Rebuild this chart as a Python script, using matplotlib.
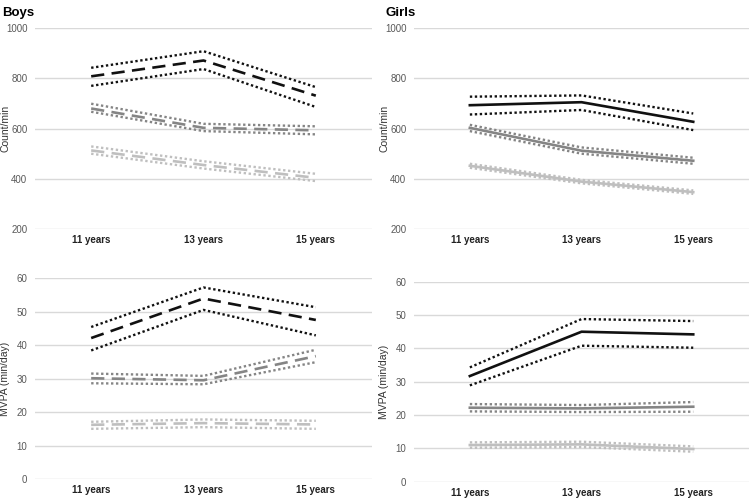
import matplotlib
matplotlib.use("Agg")
import matplotlib.pyplot as plt

plt.rcParams['font.family'] = ['Liberation Sans', 'DejaVu Sans']

ages = ['11 years', '13 years', '15 years']

# Boys, counts/min (mean, upper CI, lower CI) per group
boys_cpm_hi = [808, 871, 731]
boys_cpm_hi_up = [842, 908, 765]
boys_cpm_hi_lo = [770, 837, 686]
boys_cpm_mid = [680, 603, 593]
boys_cpm_mid_up = [699, 619, 609]
boys_cpm_mid_lo = [667, 590, 577]
boys_cpm_lo = [513, 455, 404]
boys_cpm_lo_up = [529, 470, 420]
boys_cpm_lo_lo = [500, 441, 391]

# Girls, counts/min
girls_cpm_hi = [693, 705, 627]
girls_cpm_hi_up = [727, 732, 660]
girls_cpm_hi_lo = [656, 674, 594]
girls_cpm_mid = [603, 512, 472]
girls_cpm_mid_up = [615, 525, 484]
girls_cpm_mid_lo = [590, 500, 460]
girls_cpm_lo = [452, 389, 347]
girls_cpm_lo_up = [460, 396, 354]
girls_cpm_lo_lo = [444, 382, 340]

# Boys, MVPA min/day
boys_mvpa_hi = [42.1, 53.9, 47.5]
boys_mvpa_hi_up = [45.4, 57.2, 51.3]
boys_mvpa_hi_lo = [38.4, 50.5, 42.9]
boys_mvpa_mid = [30.1, 29.5, 36.7]
boys_mvpa_mid_up = [31.5, 30.8, 38.6]
boys_mvpa_mid_lo = [28.6, 28.3, 34.9]
boys_mvpa_lo = [16.2, 16.7, 16.3]
boys_mvpa_lo_up = [17.1, 17.8, 17.4]
boys_mvpa_lo_lo = [15.0, 15.5, 15.0]

# Girls, MVPA min/day
girls_mvpa_hi = [31.7, 45.0, 44.2]
girls_mvpa_hi_up = [34.3, 48.8, 48.2]
girls_mvpa_hi_lo = [28.9, 40.8, 40.2]
girls_mvpa_mid = [22.2, 22.0, 22.5]
girls_mvpa_mid_up = [23.3, 23.0, 23.9]
girls_mvpa_mid_lo = [21.1, 20.9, 21.0]
girls_mvpa_lo = [11.0, 11.2, 9.8]
girls_mvpa_lo_up = [11.8, 12.0, 10.6]
girls_mvpa_lo_lo = [10.2, 10.4, 9.0]

BLACK = '#111111'
GREY = '#858585'
LIGHT = '#bfbfbf'
DASH = (0, (5, 2.8))
DOT = (0, (1, 1.1))

x = range(len(ages))


def style_axis(ax, ylim, yticks, ylabel):
    ax.set_xlim(-0.5, 2.5)
    ax.set_ylim(*ylim)
    ax.set_yticks(yticks)
    ax.set_xticks(list(x))
    ax.set_xticklabels(ages, fontweight='bold', fontsize=7, color='#222222')
    ax.tick_params(axis='y', labelsize=7, labelcolor='#595959', length=0, pad=5.5)
    ax.tick_params(axis='x', length=0, pad=4.5)
    ax.grid(axis='y', color='#d9d9d9', linewidth=1)
    ax.set_axisbelow(True)
    for s in ax.spines.values():
        s.set_visible(False)
    ax.set_ylabel(ylabel, fontsize=7.5, color='#333333')
    ax.yaxis.set_label_coords(-0.074, 0.5)


def draw(ax, mid, up, lo, color, ls, lw=1.9):
    ax.plot(x, up, color=color, linestyle=DOT, linewidth=1.7)
    ax.plot(x, lo, color=color, linestyle=DOT, linewidth=1.7)
    ax.plot(x, mid, color=color, linestyle=ls, linewidth=lw)


fig = plt.figure(figsize=(7.53, 4.98), dpi=100)
fig.patch.set_facecolor('white')

ax1 = fig.add_axes([0.0465, 0.540, 0.4475, 0.4036])
ax2 = fig.add_axes([0.5498, 0.540, 0.4450, 0.4036])
ax3 = fig.add_axes([0.0465, 0.038, 0.4475, 0.4036])
ax4 = fig.add_axes([0.5498, 0.0327, 0.4450, 0.4016])

draw(ax1, boys_cpm_hi, boys_cpm_hi_up, boys_cpm_hi_lo, BLACK, DASH)
draw(ax1, boys_cpm_mid, boys_cpm_mid_up, boys_cpm_mid_lo, GREY, DASH)
draw(ax1, boys_cpm_lo, boys_cpm_lo_up, boys_cpm_lo_lo, LIGHT, DASH)

draw(ax2, girls_cpm_hi, girls_cpm_hi_up, girls_cpm_hi_lo, BLACK, '-')
draw(ax2, girls_cpm_mid, girls_cpm_mid_up, girls_cpm_mid_lo, GREY, '-')
draw(ax2, girls_cpm_lo, girls_cpm_lo_up, girls_cpm_lo_lo, LIGHT, '-')

draw(ax3, boys_mvpa_hi, boys_mvpa_hi_up, boys_mvpa_hi_lo, BLACK, DASH)
draw(ax3, boys_mvpa_mid, boys_mvpa_mid_up, boys_mvpa_mid_lo, GREY, DASH)
draw(ax3, boys_mvpa_lo, boys_mvpa_lo_up, boys_mvpa_lo_lo, LIGHT, DASH)

draw(ax4, girls_mvpa_hi, girls_mvpa_hi_up, girls_mvpa_hi_lo, BLACK, '-')
draw(ax4, girls_mvpa_mid, girls_mvpa_mid_up, girls_mvpa_mid_lo, GREY, '-')
draw(ax4, girls_mvpa_lo, girls_mvpa_lo_up, girls_mvpa_lo_lo, LIGHT, '-')

style_axis(ax1, (200, 1000), [200, 400, 600, 800, 1000], 'Count/min')
style_axis(ax2, (200, 1000), [200, 400, 600, 800, 1000], 'Count/min')
style_axis(ax3, (0, 60), [0, 10, 20, 30, 40, 50, 60], 'MVPA (min/day)')
style_axis(ax4, (0, 60), [0, 10, 20, 30, 40, 50, 60], 'MVPA (min/day)')

fig.text(0.003, 0.985, 'Boys', fontsize=9.5, fontweight='bold', va='top', ha='left')
fig.text(0.512, 0.985, 'Girls', fontsize=9.5, fontweight='bold', va='top', ha='left')

fig.savefig('out.png', dpi=100, facecolor='white')
